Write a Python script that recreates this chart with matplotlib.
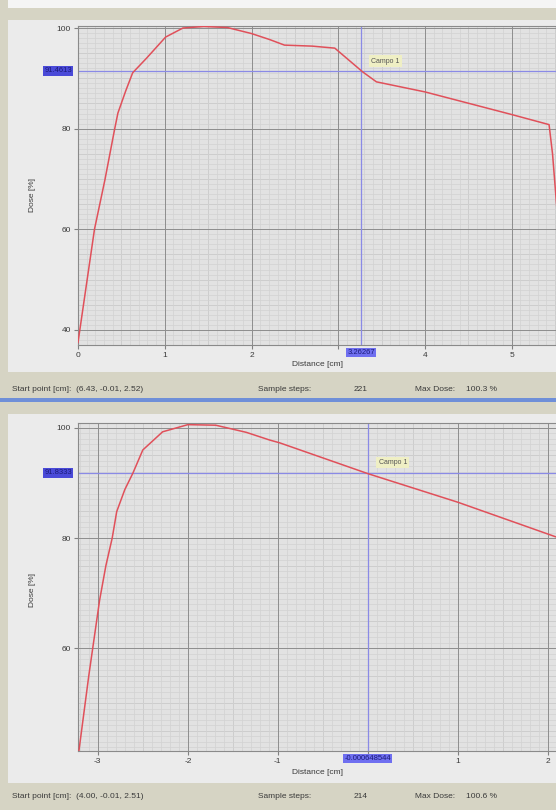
import numpy as np
import matplotlib
matplotlib.use("Agg")
import matplotlib.pyplot as plt
from matplotlib.patches import Rectangle
from matplotlib.ticker import MultipleLocator

plt.rcParams['font.family'] = ['Liberation Sans', 'DejaVu Sans']

W, H = 556, 810

# --- data: upper profile ---
top_dist = [0.0, 0.19, 0.31, 0.42, 0.46, 0.55, 0.63, 0.79, 1.01, 1.21, 1.45, 1.72,
            2.0, 2.21, 2.38, 2.7, 2.96, 3.28, 3.44, 4.0, 5.0, 5.43, 5.47, 5.53]
top_dose = [37.5, 60.0, 69.8, 79.7, 83.1, 87.5, 91.1, 94.0, 98.2, 100.0, 100.3, 100.1,
            98.9, 97.7, 96.6, 96.4, 96.0, 91.3, 89.3, 87.3, 82.8, 80.8, 75.0, 62.0]
top_cursor = (3.26267, 91.4613)
top_xlim = (0.0, 5.51)
top_ylim = (37.0, 100.4)
top_xticks = [0, 1, 2, 3, 4, 5]
top_yticks = [40, 60, 80, 100]
top_status = ["Start point [cm]:  (6.43, -0.01, 2.52)", "Sample steps:", "221",
              "Max Dose:", "100.3 %"]

# --- data: lower profile ---
bot_dist = [-3.21, -3.10, -2.98, -2.91, -2.84, -2.79, -2.70, -2.61, -2.50, -2.28,
            -2.0, -1.69, -1.35, -1.09, -0.98, 0.0, 1.0, 2.09]
bot_dose = [41.3, 55.0, 68.7, 75.0, 80.0, 84.8, 88.8, 91.8, 96.0, 99.3,
            100.6, 100.5, 99.2, 97.8, 97.3, 91.7, 86.5, 80.2]
bot_cursor = (-0.000648544, 91.8333)
bot_xlim = (-3.22, 2.09)
bot_ylim = (41.3, 100.9)
bot_xticks = [-3, -2, -1, 0, 1, 2]
bot_yticks = [60, 80, 100]
bot_status = ["Start point [cm]:  (4.00, -0.01, 2.51)", "Sample steps:", "214",
              "Max Dose:", "100.6 %"]

RED = '#e0505a'
CUR = '#8a8ae6'
TXT = '#3a3a3a'
BEIGE = '#d6d4c4'


def rect(l, t, r, b):
    return [l / W, 1 - b / H, (r - l) / W, (b - t) / H]


def bg(fig, l, t, r, b, color):
    fig.add_artist(Rectangle((l / W, 1 - b / H), (r - l) / W, (b - t) / H,
                             transform=fig.transFigure, facecolor=color,
                             edgecolor='none', zorder=0))


def profile(fig, box, dist, dose, cursor, xlim, ylim, xticks, yticks, ylab_y, xlab_y):
    ax = fig.add_axes(rect(*box))
    ax.set_facecolor('#e2e2e2')

    labels = ['' if abs(t - cursor[0]) < 0.5 else str(t) for t in xticks]
    ax.set_xticks(xticks, labels)
    ax.set_yticks(yticks)
    ax.xaxis.set_minor_locator(MultipleLocator(0.1))
    ax.yaxis.set_minor_locator(MultipleLocator(1))

    # grid: fine, medium, major
    ax.grid(which='minor', color='#d2d2d2', lw=0.5)
    for x in np.arange(np.ceil(xlim[0] * 2) / 2, xlim[1], 0.5):
        ax.axvline(x, color='#bdbdbd', lw=0.6, zorder=0.5)
    for y in np.arange(40, 101, 5):
        ax.axhline(y, color='#bdbdbd', lw=0.6, zorder=0.5)
    for x in xticks:
        ax.axvline(x, color='#8e8e8e', lw=0.7, zorder=0.6)
    for y in [40, 60, 80, 100]:
        ax.axhline(y, color='#8e8e8e', lw=0.7, zorder=0.6)
    ax.set_axisbelow(True)

    ax.tick_params(which='major', length=3, color='#808080', labelsize=6,
                   labelcolor=TXT, pad=2)
    ax.tick_params(which='minor', length=0)
    for s in ['left', 'bottom', 'top']:
        ax.spines[s].set_color('#8a8a8a')
        ax.spines[s].set_linewidth(0.8)
    ax.spines['right'].set_visible(False)

    ax.plot(dist, dose, color=RED, lw=1.1, zorder=3)

    # cursor
    ax.axhline(cursor[1], color=CUR, lw=0.9, zorder=2)
    ax.axvline(cursor[0], color=CUR, lw=0.9, zorder=2)
    ax.set_xlim(*xlim)
    ax.set_ylim(*ylim)
    ax.text(-0.012, cursor[1], f"{cursor[1]:g}", transform=ax.get_yaxis_transform(),
            ha='right', va='center', fontsize=5.5, color='#1c1c7a',
            bbox=dict(boxstyle='square,pad=0.15', fc='#4a4ad8', ec='none'))
    ax.text(cursor[0], -0.012, f"{cursor[0]:g}", transform=ax.get_xaxis_transform(),
            ha='center', va='top', fontsize=5.5, color='#1c1c7a',
            bbox=dict(boxstyle='square,pad=0.15', fc='#6f6ff0', ec='none'))
    ax.text(cursor[0] + 0.12, cursor[1] + 1.9, "Campo 1", fontsize=5, color='#555555',
            va='center', ha='left',
            bbox=dict(boxstyle='square,pad=0.35', fc='#efefc4', ec='none'), zorder=4)

    fig.text(33 / W, 1 - ylab_y / H, "Dose [%]", rotation=90, ha='center', va='center',
             fontsize=6, color=TXT)
    fig.text(318 / W, 1 - xlab_y / H, "Distance [cm]", ha='center', va='center',
             fontsize=6, color=TXT)
    return ax


def status(fig, y, items):
    xs = [12, 258, 354, 415, 466]
    for x, s in zip(xs, items):
        fig.text(x / W, 1 - y / H, s, ha='left', va='center', fontsize=6, color=TXT)


fig = plt.figure(figsize=(W / 100, H / 100), dpi=100, facecolor='#ebebeb')

# window chrome
bg(fig, 0, 0, W, 8, '#f5f5f5')
bg(fig, 0, 8, W, 20, BEIGE)
bg(fig, 0, 0, 8, 400, BEIGE)
bg(fig, 0, 372, W, 398, BEIGE)
bg(fig, 0, 398, W, 402, '#6f8fd8')
bg(fig, 0, 402, W, 414, BEIGE)
bg(fig, 0, 402, 8, H, BEIGE)
bg(fig, 0, 783, W, H, BEIGE)

profile(fig, (78, 26, 556, 345), top_dist, top_dose, top_cursor, top_xlim, top_ylim,
        top_xticks, top_yticks, 195, 364)
profile(fig, (78, 423, 556, 751), bot_dist, bot_dose, bot_cursor, bot_xlim, bot_ylim,
        bot_xticks, bot_yticks, 590, 772)

status(fig, 390, top_status)
status(fig, 797, bot_status)

fig.savefig("out.png", dpi=100, facecolor=fig.get_facecolor())
